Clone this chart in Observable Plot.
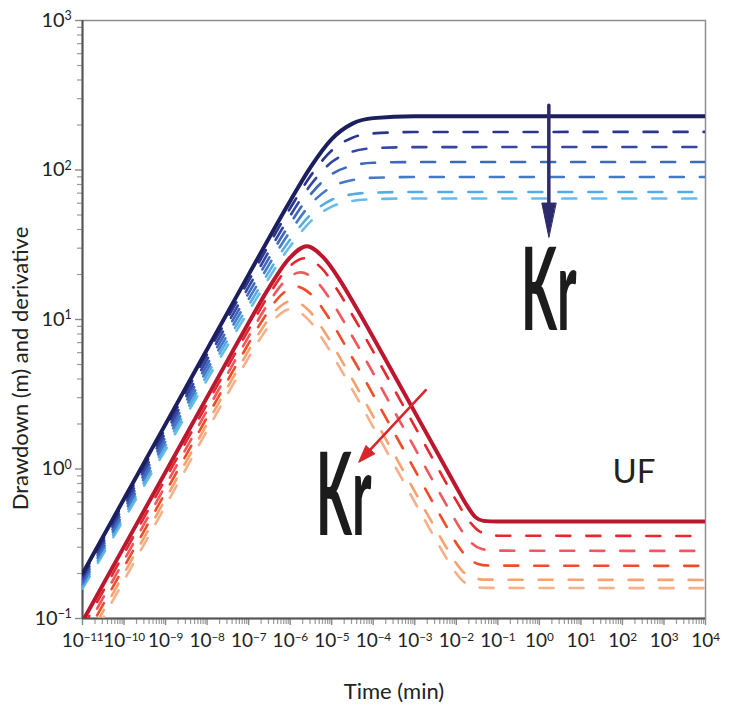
<!DOCTYPE html>
<html>
<head>
<meta charset="utf-8">
<script src="https://cdn.jsdelivr.net/npm/d3@7"></script>
<script src="https://cdn.jsdelivr.net/npm/@observablehq/plot@0.6"></script>
<style>
  body { margin: 0; background: #fff; }
  #chart svg { display: block; }
</style>
</head>
<body>
<div id="chart"></div>
<script>
// Type curves on log–log axes. Values are stored as log10 exponents:
// time in minutes, drawdown / derivative in metres.

// Drawdown curves share one time grid (log10 t).
const drawdownLogTime = [-11, -9, -7, -6, -5.5, -5, -4.5, -4, -3, 4];
// log10 drawdown, lowest Kr (solid) first, then increasing Kr (dashed).
const drawdownLog = [
  [-0.700, 0.300, 1.300, 1.793, 2.023, 2.207, 2.310, 2.347, 2.359, 2.360],
  [-0.717, 0.271, 1.259, 1.744, 1.964, 2.130, 2.216, 2.245, 2.254, 2.255],
  [-0.734, 0.242, 1.218, 1.694, 1.903, 2.053, 2.123, 2.146, 2.153, 2.154],
  [-0.751, 0.213, 1.177, 1.642, 1.840, 1.972, 2.029, 2.048, 2.053, 2.054],
  [-0.768, 0.184, 1.136, 1.589, 1.773, 1.887, 1.933, 1.948, 1.953, 1.953],
  [-0.785, 0.155, 1.095, 1.535, 1.704, 1.801, 1.838, 1.849, 1.853, 1.853],
  [-0.800, 0.128, 1.056, 1.490, 1.658, 1.755, 1.793, 1.805, 1.809, 1.809]
];
const drawdownColors = ["#1c1f5e", "#2a3590", "#3446a3", "#3d68bc", "#4679c8", "#55ace3", "#66bdea"];

// Derivative curves: [log10 t, log10 derivative] pairs.
const derivative0 = [[-11,-1.02],[-9,-0.02],[-7.5,0.73],[-7,0.978],[-6.5,1.217],[-6,1.415],[-5.6,1.49],[-5.2,1.415],[-4.8,1.262],[-4.4,1.075],[-3.5,0.63],[-2.5,0.13],[-2,-0.12],[-1.75,-0.2415],[-1.54,-0.322],[-1.35,-0.347],[-1,-0.352],[4,-0.352]];
const derivative1 = [[-11,-1.065],[-9,-0.065],[-7.5,0.685],[-7,0.932],[-6.5,1.17],[-6.05,1.345],[-5.65,1.41],[-5.25,1.345],[-4.85,1.192],[-4.45,1.005],[-3.5,0.535],[-2.5,0.035],[-2,-0.212],[-1.75,-0.325],[-1.53,-0.398],[-1.3,-0.435],[-1,-0.446],[4,-0.448]];
const derivative2 = [[-11,-1.11],[-9,-0.11],[-7.5,0.64],[-7,0.886],[-6.5,1.119],[-6.15,1.25],[-5.75,1.315],[-5.35,1.25],[-4.95,1.097],[-4.55,0.91],[-3.5,0.39],[-2.5,-0.11],[-2.1,-0.307],[-1.85,-0.421],[-1.62,-0.498],[-1.4,-0.534],[-1.1,-0.546],[4,-0.548]];
const derivative3 = [[-11,-1.155],[-9,-0.155],[-7.5,0.595],[-7.1,0.791],[-6.6,1.024],[-6.25,1.155],[-5.85,1.22],[-5.45,1.155],[-5.05,1.002],[-4.65,0.815],[-3.5,0.245],[-2.5,-0.255],[-2.2,-0.402],[-1.95,-0.517],[-1.71,-0.598],[-1.5,-0.633],[-1.2,-0.646],[4,-0.648]];
const derivative4 = [[-11,-1.2],[-9,-0.2],[-7.5,0.55],[-7.2,0.696],[-6.7,0.929],[-6.35,1.06],[-5.95,1.125],[-5.55,1.06],[-5.15,0.907],[-4.75,0.72],[-3.5,0.1],[-2.5,-0.4],[-2.3,-0.497],[-2.05,-0.611],[-1.82,-0.692],[-1.6,-0.728],[-1.3,-0.74],[4,-0.742]];
const derivative5 = [[-11,-1.245],[-9,-0.245],[-7.5,0.505],[-7.225,0.638],[-6.725,0.871],[-6.375,1.003],[-5.975,1.07],[-5.575,1.003],[-5.175,0.85],[-4.775,0.663],[-3.5,0.03],[-2.5,-0.47],[-2.3,-0.567],[-2.05,-0.68],[-1.85,-0.747],[-1.6,-0.785],[-1.3,-0.795],[4,-0.797]];
const derivativeLog = [derivative0, derivative1, derivative2, derivative3, derivative4, derivative5];
const derivativeColors = ["#bb1830", "#e8262d", "#f0575f", "#f04c27", "#f5a26e", "#f7b088"];

// Axis decades (exponents of ten).
const xTickExponents = [-11, -10, -9, -8, -7, -6, -5, -4, -3, -2, -1, 0, 1, 2, 3, 4];
const yTickExponents = [-1, 0, 1, 2, 3];

// Annotations: arrows for increasing Kr and the text labels.
const krArrows = [
  {t1: 1.69, v1: 271, t2: 1.69, v2: 35.6, color: "#2d2a6c", width: 3.5, head: 34, half: 7},
  {t1: 1.84e-3, v1: 3.37, t2: 4.47e-5, v2: 1.11, color: "#d9262b", width: 2.6, head: 17, half: 6}
];
const krLabels = [
  {t: 1.69, v: 8.5, text: "Kr"},
  {t: 1.95e-5, v: 0.362, text: "Kr"}
];
const flowLabels = [{t: 189, v: 0.955, text: "UF"}];

// ---------------------------------------------------------------------
const W = 730, H = 713;
const M = {left: 82, right: 25, top: 20, bottom: 95};
const FONT = "Lato, 'Noto Sans', sans-serif";
const xDomain = [1e-11, 1e4], yDomain = [0.1, 1000];

const pow10 = e => 10 ** e;
const xMajor = xTickExponents.map(pow10);
const yMajor = yTickExponents.map(pow10);
const minorOf = exps => exps.slice(0, -1).flatMap(e => [2, 3, 4, 5, 6, 7, 8, 9].map(m => m * 10 ** e));
const xMinor = minorOf(xTickExponents);
const yMinor = minorOf(yTickExponents);
const expLabel = d => "10^" + Math.round(Math.log10(d));

const drawdownSeries = drawdownLog.map(row =>
  row.map((lv, i) => ({t: pow10(drawdownLogTime[i]), v: pow10(lv)})));
const derivativeSeries = derivativeLog.map(pts =>
  pts.map(([lt, lv]) => ({t: pow10(lt), v: pow10(lv)})));

const curveMark = (data, color, solid) => Plot.line(data, {
  x: "t", y: "v", stroke: color, curve: "monotone-x", clip: true,
  strokeWidth: solid ? 4 : 2.6,
  strokeDasharray: solid ? null : "14,16",
  strokeLinejoin: "round"
});

const curveMarks = [];
for (let k = drawdownSeries.length - 1; k >= 1; --k) curveMarks.push(curveMark(drawdownSeries[k], drawdownColors[k], false));
for (let k = derivativeSeries.length - 1; k >= 1; --k) curveMarks.push(curveMark(derivativeSeries[k], derivativeColors[k], false));
curveMarks.push(curveMark(derivativeSeries[0], derivativeColors[0], true));
curveMarks.push(curveMark(drawdownSeries[0], drawdownColors[0], true));

// Pixel-space direction of each arrow, used to turn its head.
const xs = d3.scaleLog(xDomain, [M.left, W - M.right]);
const ys = d3.scaleLog(yDomain, [H - M.bottom, M.top]);
const headAngle = a => Math.atan2(xs(a.t2) - xs(a.t1), -(ys(a.v2) - ys(a.v1))) * 180 / Math.PI;
const wedge = half => ({
  draw(ctx, l) { ctx.moveTo(0, -l); ctx.lineTo(half, 0); ctx.lineTo(-half, 0); ctx.closePath(); }
});

const arrowMarks = krArrows.flatMap(a => [
  Plot.arrow([a], {x1: "t1", y1: "v1", x2: "t2", y2: "v2", stroke: a.color,
    strokeWidth: a.width, headLength: 0, insetEnd: a.head - 3}),
  Plot.vector([a], {x: "t2", y: "v2", length: a.head, rotate: headAngle(a), anchor: "end",
    shape: wedge(a.half), fill: a.color, stroke: a.color, strokeWidth: 1})
]);

const svg = Plot.plot({
  width: W, height: H,
  marginLeft: M.left, marginRight: M.right, marginTop: M.top, marginBottom: M.bottom,
  style: {fontFamily: FONT, fontSize: "19px", color: "#222", background: "#fff", overflow: "visible"},
  x: {type: "log", domain: xDomain},
  y: {type: "log", domain: yDomain},
  marks: [
    Plot.axisX(xMinor, {tickSize: 6, tickFormat: () => "", stroke: "#9a9a9a", strokeWidth: 1.2, label: null}),
    Plot.axisX(xMajor, {tickSize: 7, tickPadding: 8, tickFormat: expLabel, stroke: "#8a8a8a",
      strokeWidth: 1.4, fontSize: 19, label: "Time (min)", labelAnchor: "center", labelOffset: 80, labelArrow: "none"}),
    Plot.axisY(yMinor, {tickSize: 5, tickFormat: () => "", stroke: "#9a9a9a", strokeWidth: 1.2, label: null}),
    Plot.axisY(yMajor, {tickSize: 7, tickPadding: 4, tickFormat: expLabel, stroke: "#8a8a8a",
      strokeWidth: 1.4, fontSize: 20, label: "Drawdown (m) and derivative", labelAnchor: "center", labelOffset: 70, labelArrow: "none"}),
    Plot.frame({stroke: "#8e8e8e", strokeWidth: 1.5}),
    Plot.ruleX([xDomain[0]], {stroke: "#555", strokeWidth: 2}),
    Plot.ruleY([yDomain[0]], {stroke: "#555", strokeWidth: 2}),
    ...curveMarks,
    ...arrowMarks,
    Plot.text(krLabels, {x: "t", y: "v", text: "text", fontSize: 114, fontWeight: 700,
      fill: "#1c1c1c", lineAnchor: "bottom", textAnchor: "middle"}),
    Plot.text(flowLabels, {x: "t", y: "v", text: "text", fontSize: 33, fill: "#222",
      lineAnchor: "middle", textAnchor: "middle"})
  ]
});

const root = d3.select(svg);

// Exponents as superscripts on the tick labels.
root.selectAll('g[aria-label$="tick label"] text').each(function () {
  const m = this.textContent.match(/^10\^(-?\d+)$/);
  if (!m) return;
  const t = d3.select(this);
  t.text("10");
  t.append("tspan").attr("dy", "-0.55em").attr("font-size", "0.62em")
    .attr("letter-spacing", "-0.3px").text(m[1].replace("-", "\u2212"));
});

// Axis titles.
root.selectAll('g[aria-label="x-axis label"], g[aria-label="y-axis label"]')
  .attr("font-size", 22).selectAll("text").attr("font-size", 22);
root.selectAll('g[aria-label="y-axis label"]').each(function () {
  const g = d3.select(this);
  g.attr("transform", ((g.attr("transform") || "") + " translate(0,49)").trim());
});

// Tall, narrow "Kr" lettering.
root.selectAll("text").filter(function () { return this.textContent === "Kr"; }).each(function () {
  const t = d3.select(this);
  const x = t.attr("x"), y = t.attr("y"), tr = t.attr("transform") || "";
  if (x != null || y != null) {
    t.attr("x", null).attr("y", null);
    t.attr("transform", `translate(${x || 0},${y || 0}) ${tr} scale(0.46,1)`);
  } else {
    t.attr("transform", `${tr} scale(0.46,1)`);
  }
});

document.getElementById("chart").append(svg);
</script>
</body>
</html>
